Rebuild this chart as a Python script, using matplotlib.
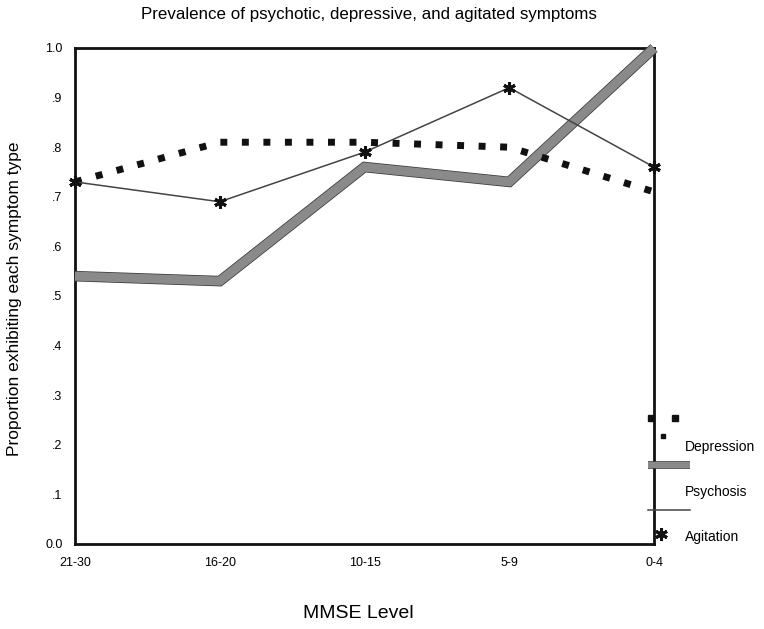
import matplotlib
matplotlib.use("Agg")
import matplotlib.pyplot as plt
import matplotlib.patheffects as pe
from matplotlib.lines import Line2D

plt.rcParams['font.family'] = ['Liberation Sans', 'DejaVu Sans']

categories = ["21-30", "16-20", "10-15", "5-9", "0-4"]
depression = [0.73, 0.81, 0.81, 0.80, 0.71]
psychosis = [0.54, 0.53, 0.76, 0.73, 1.00]
agitation = [0.73, 0.69, 0.79, 0.92, 0.76]
yticks = [0.0, 0.1, 0.2, 0.3, 0.4, 0.5, 0.6, 0.7, 0.8, 0.9, 1.0]
ytick_labels = ["0.0", ".1", ".2", ".3", ".4", ".5", ".6", ".7", ".8", ".9", "1.0"]

fig = plt.figure(figsize=(7.64, 6.29), dpi=100)
ax = fig.add_axes([75/764, 85/629, (654-75)/764, (544-48)/629])
x = list(range(len(categories)))

ax.plot(x, psychosis, color='#8a8a8a', lw=6.5, solid_joinstyle='miter', solid_capstyle='butt',
        clip_on=False, zorder=3,
        path_effects=[pe.Stroke(linewidth=7.6, foreground='#3a3a3a'), pe.Normal()])
ax.plot(x, depression, color='#111111', lw=5.0, linestyle=(0, (1, 2.1)), dash_capstyle='butt',
        clip_on=False, zorder=4)
ax.plot(x, agitation, color='#444444', lw=1.1, marker=(6, 2, 0), markersize=9, markeredgewidth=2.2,
        markeredgecolor='#111111', clip_on=False, zorder=5)

ax.set_xlim(0, 4)
ax.set_ylim(0, 1)
ax.set_xticks(x)
ax.set_xticklabels(categories, fontsize=9)
ax.set_yticks(yticks)
ax.set_yticklabels(ytick_labels, fontsize=9)
ax.tick_params(length=0, pad=9)
for s in ax.spines.values():
    s.set_linewidth(2.0)
    s.set_color('#111111')

def fx(px):
    return px / 764
def fy(py):
    return 1 - py / 629

fig.text(fx(369), fy(14), "Prevalence of psychotic, depressive, and agitated symptoms",
         ha='center', va='center', fontsize=12.2)
fig.text(fx(358), fy(614), "MMSE Level", ha='center', va='center', fontsize=14)
fig.text(fx(15), fy(299), "Proportion exhibiting each symptom type", ha='center', va='center',
         rotation=90, fontsize=12.5)

# legend (figure-coordinate decorations)
for px in (651, 675):
    fig.add_artist(Line2D([fx(px)], [fy(418)], transform=fig.transFigure, marker='s',
                          markersize=5, color='#111111', lw=0))
fig.add_artist(Line2D([fx(663)], [fy(436)], transform=fig.transFigure, marker='s',
                      markersize=3.5, color='#111111', lw=0))
fig.text(fx(685), fy(447), "Depression", fontsize=10, va='center', ha='left')
fig.add_artist(Line2D([fx(648), fx(690)], [fy(465), fy(465)], transform=fig.transFigure,
                      color='#8a8a8a', lw=4.5, solid_capstyle='butt',
                      path_effects=[pe.Stroke(linewidth=5.5, foreground='#3a3a3a'), pe.Normal()]))
fig.text(fx(685), fy(492), "Psychosis", fontsize=10, va='center', ha='left')
fig.add_artist(Line2D([fx(648), fx(690)], [fy(510), fy(510)], transform=fig.transFigure,
                      color='#444444', lw=1.1))
fig.add_artist(Line2D([fx(661)], [fy(534)], transform=fig.transFigure, marker=(6, 2, 0),
                      markersize=9, markeredgewidth=2.2, color='#111111', lw=0))
fig.text(fx(685), fy(537), "Agitation", fontsize=10, va='center', ha='left')

fig.savefig("out.png", dpi=100, facecolor='white')
